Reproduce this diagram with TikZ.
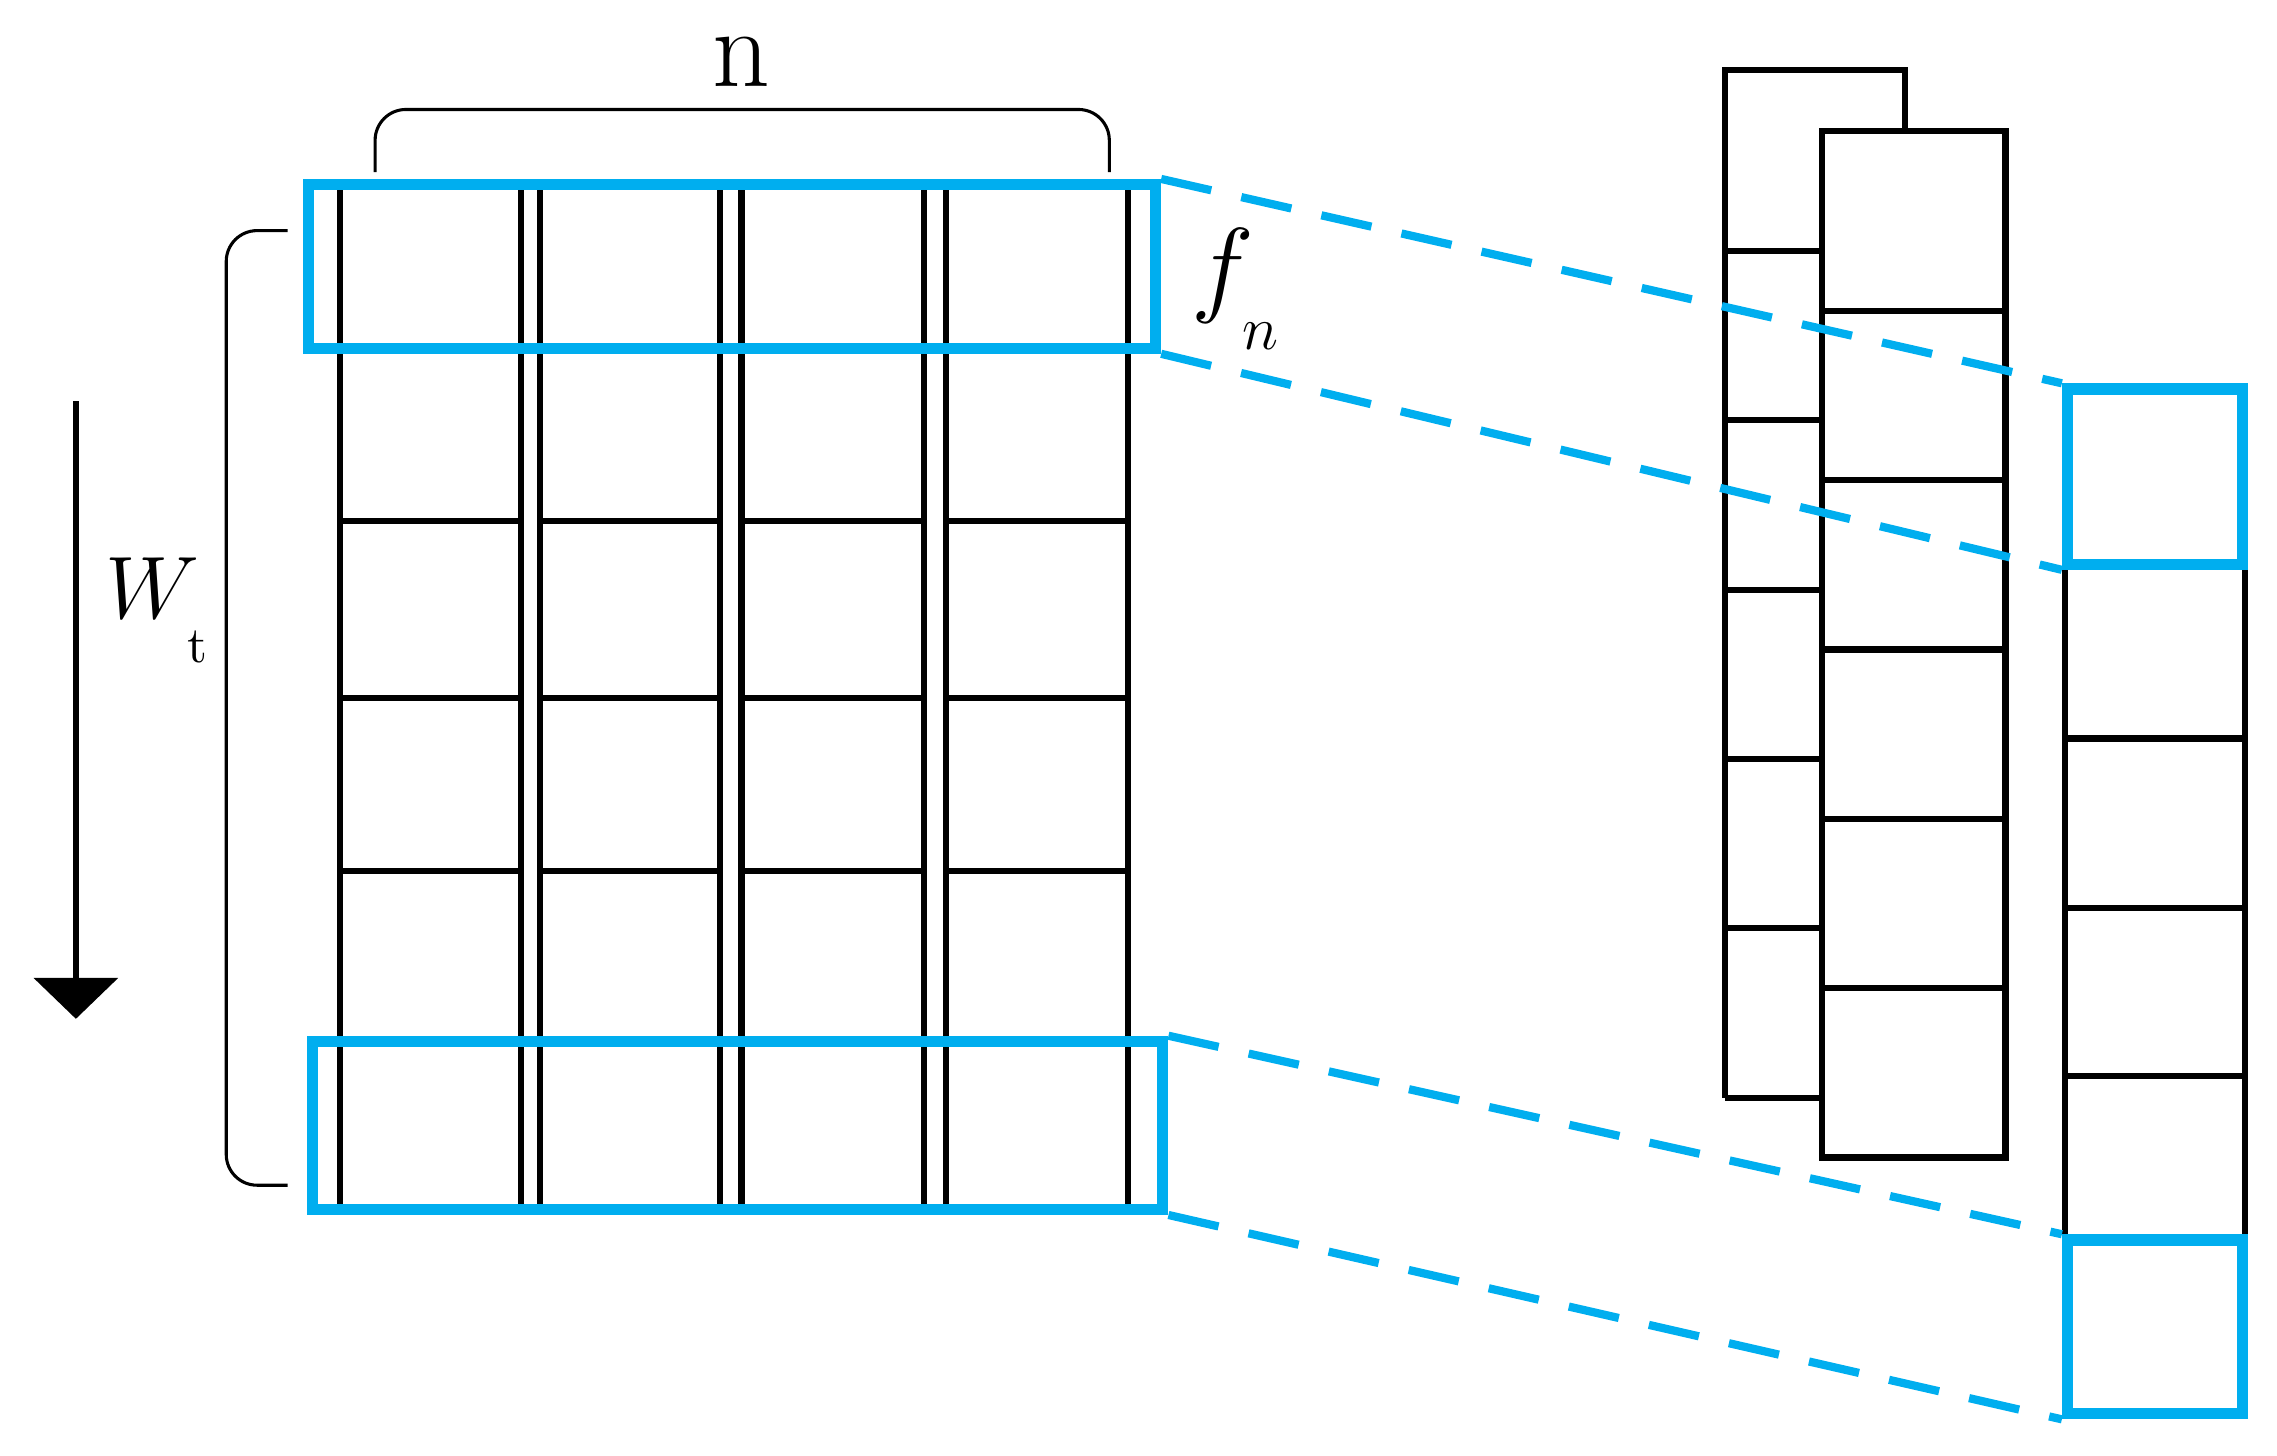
\documentclass[tikz,border=0pt]{standalone}
\usepackage{tikz}
\usetikzlibrary{positioning}
\definecolor{skyblue}{RGB}{0,174,239}
\begin{document}
\begin{tikzpicture}[x=0.01cm, y=-0.01cm,
    cellline/.style ={draw, line width=1.2pt},
    selbox/.style ={draw=skyblue, line width=2.2pt, inner sep=0pt},
    link/.style ={skyblue, line width=1.6pt, dash pattern=on 10pt off 6pt}]
   \useasboundingbox (0,0) rectangle (1560,997);

   % grid of columns
   \foreach \xa/\xb in {233/357, 370/493, 508/633, 648/773} {
     \draw[cellline] (\xa,125) rectangle (\xb,830);
     \foreach \yy in {240,357,478,597,712}
       \draw[cellline] (\xa,\yy) -- (\xb,\yy);
   }

   % selected rows
   \node[selbox, minimum width=5.8cm, minimum height=1.12cm] (top) at (501.5,182.5) {};
   \node[selbox, minimum width=5.82cm, minimum height=1.15cm] (bot) at (505.5,771) {};

   % braces
   \draw[line width=0.6pt, rounded corners=6pt] (257,118) -- (257,75) -- (760,75) -- (760,118);
   \node[inner sep=0pt] (n) at (508,42) {\fontsize{22}{22}\selectfont n};
   \draw[line width=0.6pt, rounded corners=6pt] (197,158) -- (155,158) -- (155,812) -- (197,812);

   % time arrow
   \coordinate (ta) at (52,275);
   \coordinate (tb) at (52,698);
   \draw[line width=1.2pt] (ta) -- (52,670);
   \fill (23,670) -- (81,670) -- (tb) -- cycle;
   \node (wt) at (108,418) {\fontsize{17}{17}\selectfont $W_{\raisebox{-6pt}{\fontsize{10}{10}\selectfont t}}$};
   \node (fn) at (847,198) {\fontsize{20}{20}\selectfont $f_{\raisebox{-6pt}{\fontsize{12}{12}\selectfont $n$}}$};

   % stacked columns
   \draw[cellline] (1182,752) -- (1182,48) -- (1305,48) -- (1305,90);
   \draw[cellline] (1182,752) -- (1248,752);
   \foreach \yy in {172,288,404,520,636}
     \draw[cellline] (1182,\yy) -- (1248,\yy);
   \draw[cellline] (1248,90) rectangle (1374,793);
   \foreach \yy in {213,329,445,561,677}
     \draw[cellline] (1248,\yy) -- (1374,\yy);

   % output column
   \draw[cellline] (1415,388) rectangle (1538,848);
   \foreach \yy in {506,622,737}
     \draw[cellline] (1415,\yy) -- (1538,\yy);
   \node[selbox, minimum width=1.2cm, minimum height=1.2cm] (ftop) at (1476.5,326.5) {};
   \node[selbox, minimum width=1.2cm, minimum height=1.19cm] (fbot) at (1476.5,909) {};

   \draw[link] (top.north east) -- (ftop.north west);
   \draw[link] (top.south east) -- (ftop.south west);
   \draw[link] (bot.north east) -- (fbot.north west);
   \draw[link] (bot.south east) -- (fbot.south west);
\end{tikzpicture}
\end{document}
